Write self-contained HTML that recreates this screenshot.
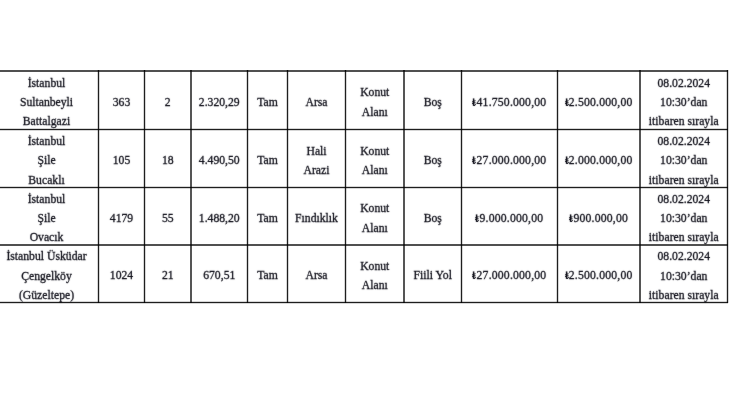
<!DOCTYPE html>
<html><head><meta charset="utf-8"><style>
html,body{margin:0;padding:0;background:#fff;}
body{width:730px;height:420px;position:relative;overflow:hidden;font-family:"Liberation Serif",serif;}
#w{position:absolute;left:0;top:0;width:730px;height:420px;filter:url(#bl);}
.c{position:absolute;display:flex;flex-direction:column;justify-content:center;align-items:center;text-align:center;font-size:11.7px;line-height:19.2px;color:#0a0a14;white-space:nowrap;-webkit-text-stroke:0.28px #0a0a14;}
.l{display:inline-block;vertical-align:0px;margin-left:-0.2px;margin-right:0.3px;}
</style></head><body>
<svg width="0" height="0" style="position:absolute"><filter id="bl" color-interpolation-filters="sRGB" x="-1%" y="-1%" width="102%" height="102%"><feConvolveMatrix order="3" kernelMatrix="0.0125 0.05 0.0125 0.05 0.75 0.05 0.0125 0.05 0.0125" edgeMode="duplicate" preserveAlpha="false"/></filter></svg>

<div id="w">
<div class="c" style="left:-5px;top:74.0px;width:103px;height:57.400000000000006px"><div>İstanbul<br>Sultanbeyli<br>Battalgazi</div></div>
<div class="c" style="left:99px;top:74.0px;width:45px;height:57.400000000000006px"><div>363</div></div>
<div class="c" style="left:145px;top:74.0px;width:45.5px;height:57.400000000000006px"><div>2</div></div>
<div class="c" style="left:191.5px;top:74.0px;width:55.5px;height:57.400000000000006px"><div>2.320,29</div></div>
<div class="c" style="left:248px;top:74.0px;width:39px;height:57.400000000000006px"><div>Tam</div></div>
<div class="c" style="left:288px;top:74.0px;width:57px;height:57.400000000000006px"><div>Arsa</div></div>
<div class="c" style="left:346px;top:74.0px;width:57.5px;height:57.400000000000006px"><div>Konut<br>Alanı</div></div>
<div class="c" style="left:404.5px;top:74.0px;width:56.5px;height:57.400000000000006px"><div>Boş</div></div>
<div class="c" style="left:462px;top:74.0px;width:95px;height:57.400000000000006px;letter-spacing:0.2px"><div><svg class="l" width="3.8" height="8.4" viewBox="0 0 3.8 8.4"><g fill="none" stroke="#0a0a14"><path d="M1.6 0.4V7.9" stroke-width="1.5"/><path d="M1.6 7.8Q3.5 7.8 3.6 5.8" stroke-width="1.0"/><path d="M0 4.0L3.5 2.6M0 5.8L3.5 4.4" stroke-width="1.0"/></g></svg>41.750.000,00</div></div>
<div class="c" style="left:558px;top:74.0px;width:81.5px;height:57.400000000000006px;letter-spacing:0.2px"><div><svg class="l" width="3.8" height="8.4" viewBox="0 0 3.8 8.4"><g fill="none" stroke="#0a0a14"><path d="M1.6 0.4V7.9" stroke-width="1.5"/><path d="M1.6 7.8Q3.5 7.8 3.6 5.8" stroke-width="1.0"/><path d="M0 4.0L3.5 2.6M0 5.8L3.5 4.4" stroke-width="1.0"/></g></svg>2.500.000,00</div></div>
<div class="c" style="left:640.5px;top:74.0px;width:86.5px;height:57.400000000000006px"><div>08.02.2024<br>10:30’dan<br>itibaren sırayla</div></div>
<div class="c" style="left:-5px;top:132.4px;width:103px;height:57px"><div>İstanbul<br>Şile<br>Bucaklı</div></div>
<div class="c" style="left:99px;top:132.4px;width:45px;height:57px"><div>105</div></div>
<div class="c" style="left:145px;top:132.4px;width:45.5px;height:57px"><div>18</div></div>
<div class="c" style="left:191.5px;top:132.4px;width:55.5px;height:57px"><div>4.490,50</div></div>
<div class="c" style="left:248px;top:132.4px;width:39px;height:57px"><div>Tam</div></div>
<div class="c" style="left:288px;top:132.4px;width:57px;height:57px"><div>Hali<br>Arazi</div></div>
<div class="c" style="left:346px;top:132.4px;width:57.5px;height:57px"><div>Konut<br>Alanı</div></div>
<div class="c" style="left:404.5px;top:132.4px;width:56.5px;height:57px"><div>Boş</div></div>
<div class="c" style="left:462px;top:132.4px;width:95px;height:57px;letter-spacing:0.2px"><div><svg class="l" width="3.8" height="8.4" viewBox="0 0 3.8 8.4"><g fill="none" stroke="#0a0a14"><path d="M1.6 0.4V7.9" stroke-width="1.5"/><path d="M1.6 7.8Q3.5 7.8 3.6 5.8" stroke-width="1.0"/><path d="M0 4.0L3.5 2.6M0 5.8L3.5 4.4" stroke-width="1.0"/></g></svg>27.000.000,00</div></div>
<div class="c" style="left:558px;top:132.4px;width:81.5px;height:57px;letter-spacing:0.2px"><div><svg class="l" width="3.8" height="8.4" viewBox="0 0 3.8 8.4"><g fill="none" stroke="#0a0a14"><path d="M1.6 0.4V7.9" stroke-width="1.5"/><path d="M1.6 7.8Q3.5 7.8 3.6 5.8" stroke-width="1.0"/><path d="M0 4.0L3.5 2.6M0 5.8L3.5 4.4" stroke-width="1.0"/></g></svg>2.000.000,00</div></div>
<div class="c" style="left:640.5px;top:132.4px;width:86.5px;height:57px"><div>08.02.2024<br>10:30’dan<br>itibaren sırayla</div></div>
<div class="c" style="left:-5px;top:190.4px;width:103px;height:56.400000000000006px"><div>İstanbul<br>Şile<br>Ovacık</div></div>
<div class="c" style="left:99px;top:190.4px;width:45px;height:56.400000000000006px"><div>4179</div></div>
<div class="c" style="left:145px;top:190.4px;width:45.5px;height:56.400000000000006px"><div>55</div></div>
<div class="c" style="left:191.5px;top:190.4px;width:55.5px;height:56.400000000000006px"><div>1.488,20</div></div>
<div class="c" style="left:248px;top:190.4px;width:39px;height:56.400000000000006px"><div>Tam</div></div>
<div class="c" style="left:288px;top:190.4px;width:57px;height:56.400000000000006px"><div>Fındıklık</div></div>
<div class="c" style="left:346px;top:190.4px;width:57.5px;height:56.400000000000006px"><div>Konut<br>Alanı</div></div>
<div class="c" style="left:404.5px;top:190.4px;width:56.5px;height:56.400000000000006px"><div>Boş</div></div>
<div class="c" style="left:462px;top:190.4px;width:95px;height:56.400000000000006px;letter-spacing:0.2px"><div><svg class="l" width="3.8" height="8.4" viewBox="0 0 3.8 8.4"><g fill="none" stroke="#0a0a14"><path d="M1.6 0.4V7.9" stroke-width="1.5"/><path d="M1.6 7.8Q3.5 7.8 3.6 5.8" stroke-width="1.0"/><path d="M0 4.0L3.5 2.6M0 5.8L3.5 4.4" stroke-width="1.0"/></g></svg>9.000.000,00</div></div>
<div class="c" style="left:558px;top:190.4px;width:81.5px;height:56.400000000000006px;letter-spacing:0.2px"><div><svg class="l" width="3.8" height="8.4" viewBox="0 0 3.8 8.4"><g fill="none" stroke="#0a0a14"><path d="M1.6 0.4V7.9" stroke-width="1.5"/><path d="M1.6 7.8Q3.5 7.8 3.6 5.8" stroke-width="1.0"/><path d="M0 4.0L3.5 2.6M0 5.8L3.5 4.4" stroke-width="1.0"/></g></svg>900.000,00</div></div>
<div class="c" style="left:640.5px;top:190.4px;width:86.5px;height:56.400000000000006px"><div>08.02.2024<br>10:30’dan<br>itibaren sırayla</div></div>
<div class="c" style="left:-5px;top:247.8px;width:103px;height:56.599999999999994px"><div>İstanbul Üsküdar<br>Çengelköy<br>(Güzeltepe)</div></div>
<div class="c" style="left:99px;top:247.8px;width:45px;height:56.599999999999994px"><div>1024</div></div>
<div class="c" style="left:145px;top:247.8px;width:45.5px;height:56.599999999999994px"><div>21</div></div>
<div class="c" style="left:191.5px;top:247.8px;width:55.5px;height:56.599999999999994px"><div>670,51</div></div>
<div class="c" style="left:248px;top:247.8px;width:39px;height:56.599999999999994px"><div>Tam</div></div>
<div class="c" style="left:288px;top:247.8px;width:57px;height:56.599999999999994px"><div>Arsa</div></div>
<div class="c" style="left:346px;top:247.8px;width:57.5px;height:56.599999999999994px"><div>Konut<br>Alanı</div></div>
<div class="c" style="left:404.5px;top:247.8px;width:56.5px;height:56.599999999999994px"><div>Fiili Yol</div></div>
<div class="c" style="left:462px;top:247.8px;width:95px;height:56.599999999999994px;letter-spacing:0.2px"><div><svg class="l" width="3.8" height="8.4" viewBox="0 0 3.8 8.4"><g fill="none" stroke="#0a0a14"><path d="M1.6 0.4V7.9" stroke-width="1.5"/><path d="M1.6 7.8Q3.5 7.8 3.6 5.8" stroke-width="1.0"/><path d="M0 4.0L3.5 2.6M0 5.8L3.5 4.4" stroke-width="1.0"/></g></svg>27.000.000,00</div></div>
<div class="c" style="left:558px;top:247.8px;width:81.5px;height:56.599999999999994px;letter-spacing:0.2px"><div><svg class="l" width="3.8" height="8.4" viewBox="0 0 3.8 8.4"><g fill="none" stroke="#0a0a14"><path d="M1.6 0.4V7.9" stroke-width="1.5"/><path d="M1.6 7.8Q3.5 7.8 3.6 5.8" stroke-width="1.0"/><path d="M0 4.0L3.5 2.6M0 5.8L3.5 4.4" stroke-width="1.0"/></g></svg>2.500.000,00</div></div>
<div class="c" style="left:640.5px;top:247.8px;width:86.5px;height:56.599999999999994px"><div>08.02.2024<br>10:30’dan<br>itibaren sırayla</div></div>
</div>
<div style="position:absolute;left:0px;top:70px;width:728px;height:2px;background:#505050;box-shadow:none;mix-blend-mode:multiply"></div>
<div style="position:absolute;left:0px;top:129px;width:728px;height:1px;background:#1e1e1e;box-shadow:0 1px 0 rgba(0,0,0,0.16),0 -1px 0 rgba(0,0,0,0.16);mix-blend-mode:multiply"></div>
<div style="position:absolute;left:0px;top:187px;width:728px;height:1px;background:#1e1e1e;box-shadow:0 1px 0 rgba(0,0,0,0.16),0 -1px 0 rgba(0,0,0,0.16);mix-blend-mode:multiply"></div>
<div style="position:absolute;left:0px;top:244px;width:728px;height:2px;background:#505050;box-shadow:none;mix-blend-mode:multiply"></div>
<div style="position:absolute;left:0px;top:302px;width:728px;height:1px;background:#1e1e1e;box-shadow:0 1px 0 rgba(0,0,0,0.16),0 -1px 0 rgba(0,0,0,0.16);mix-blend-mode:multiply"></div>
<div style="position:absolute;left:98px;top:70px;width:1px;height:233px;background:#1e1e1e;box-shadow:1px 0 0 rgba(0,0,0,0.16),-1px 0 0 rgba(0,0,0,0.16);mix-blend-mode:multiply"></div>
<div style="position:absolute;left:144px;top:70px;width:1px;height:233px;background:#1e1e1e;box-shadow:1px 0 0 rgba(0,0,0,0.16),-1px 0 0 rgba(0,0,0,0.16);mix-blend-mode:multiply"></div>
<div style="position:absolute;left:190px;top:70px;width:2px;height:233px;background:#555;box-shadow:none;mix-blend-mode:multiply"></div>
<div style="position:absolute;left:247px;top:70px;width:1px;height:233px;background:#1e1e1e;box-shadow:1px 0 0 rgba(0,0,0,0.16),-1px 0 0 rgba(0,0,0,0.16);mix-blend-mode:multiply"></div>
<div style="position:absolute;left:287px;top:70px;width:1px;height:233px;background:#1e1e1e;box-shadow:1px 0 0 rgba(0,0,0,0.16),-1px 0 0 rgba(0,0,0,0.16);mix-blend-mode:multiply"></div>
<div style="position:absolute;left:345px;top:70px;width:1px;height:233px;background:#1e1e1e;box-shadow:1px 0 0 rgba(0,0,0,0.16),-1px 0 0 rgba(0,0,0,0.16);mix-blend-mode:multiply"></div>
<div style="position:absolute;left:403px;top:70px;width:2px;height:233px;background:#555;box-shadow:none;mix-blend-mode:multiply"></div>
<div style="position:absolute;left:461px;top:70px;width:1px;height:233px;background:#1e1e1e;box-shadow:1px 0 0 rgba(0,0,0,0.16),-1px 0 0 rgba(0,0,0,0.16);mix-blend-mode:multiply"></div>
<div style="position:absolute;left:557px;top:70px;width:1px;height:233px;background:#1e1e1e;box-shadow:1px 0 0 rgba(0,0,0,0.16),-1px 0 0 rgba(0,0,0,0.16);mix-blend-mode:multiply"></div>
<div style="position:absolute;left:639px;top:70px;width:2px;height:233px;background:#555;box-shadow:none;mix-blend-mode:multiply"></div>
<div style="position:absolute;left:727px;top:70px;width:1px;height:233px;background:#1e1e1e;box-shadow:1px 0 0 rgba(0,0,0,0.16),-1px 0 0 rgba(0,0,0,0.16);mix-blend-mode:multiply"></div>
</body></html>
